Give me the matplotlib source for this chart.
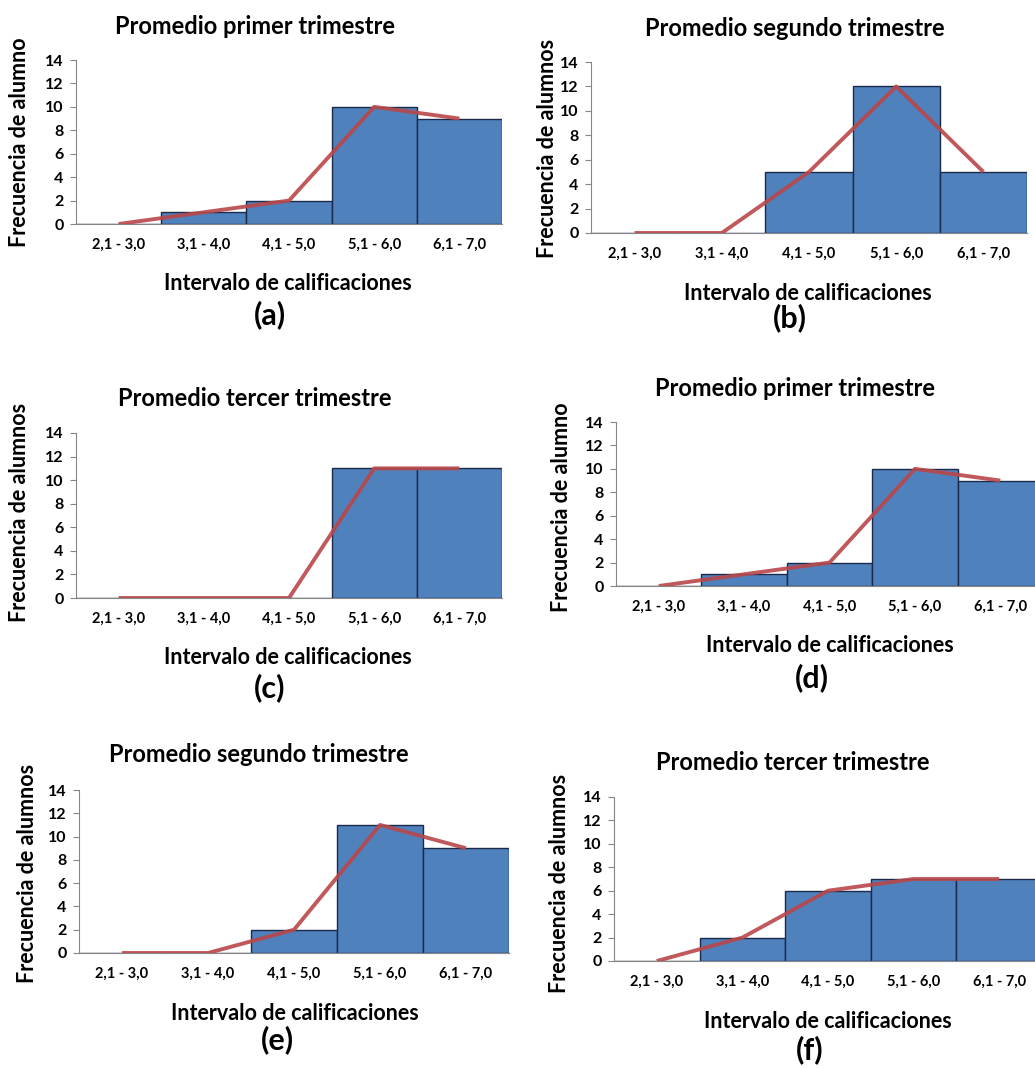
import matplotlib
matplotlib.use("Agg")
import matplotlib.pyplot as plt
import numpy as np

plt.rcParams['font.family'] = ['Lato', 'DejaVu Sans']
plt.rcParams['font.weight'] = 'bold'

categories = ["2,1 - 3,0", "3,1 - 4,0", "4,1 - 5,0", "5,1 - 6,0", "6,1 - 7,0"]
yticks = [0, 2, 4, 6, 8, 10, 12, 14]

freq_a = [0, 1, 2, 10, 9]
freq_b = [0, 0, 5, 12, 5]
freq_c = [0, 0, 0, 11, 11]
freq_d = [0, 1, 2, 10, 9]
freq_e = [0, 0, 2, 11, 9]
freq_f = [0, 2, 6, 7, 7]

titles = ["Promedio primer trimestre", "Promedio segundo trimestre", "Promedio tercer trimestre",
          "Promedio primer trimestre", "Promedio segundo trimestre", "Promedio tercer trimestre"]
ylabels = ["Frecuencia de alumno", "Frecuencia de alumnos", "Frecuencia de alumnos",
           "Frecuencia de alumno", "Frecuencia de alumnos", "Frecuencia de alumnos"]
xlabel = "Intervalo de calificaciones"
panel_tags = ["(a)", "(b)", "(c)", "(d)", "(e)", "(f)"]
series = [freq_a, freq_b, freq_c, freq_d, freq_e, freq_f]

W, H = 1035, 1068
fig = plt.figure(figsize=(W / 100, H / 100), dpi=100)
fig.patch.set_facecolor("white")

layouts = [
    dict(ax=(76, 502, 60, 224), title=(255, 27), ylab=(20, 142), xlab=(288, 283), tag=(270, 315)),
    dict(ax=(591, 1027, 62, 233), title=(795, 29), ylab=(548, 148), xlab=(808, 293), tag=(790, 318)),
    dict(ax=(76, 502, 433, 598), title=(255, 398), ylab=(20, 512), xlab=(288, 657), tag=(270, 688)),
    dict(ax=(616, 1043, 422, 586), title=(795, 388), ylab=(562, 507), xlab=(830, 646), tag=(812, 678)),
    dict(ax=(79, 509, 790, 953), title=(259, 755), ylab=(28, 873), xlab=(295, 1013), tag=(277, 1040)),
    dict(ax=(614, 1042, 797, 961), title=(793, 763), ylab=(560, 883), xlab=(828, 1022), tag=(810, 1050)),
]

bar_color = "#4F81BD"
edge_color = "#1B2A48"
line_color = "#B9474A"

x = np.arange(len(categories))
for vals, lay, title, ylab, tag in zip(series, layouts, titles, ylabels, panel_tags):
    l, r, t, b = lay["ax"]
    ax = fig.add_axes([l / W, 1 - b / H, (r - l) / W, (b - t) / H])
    ax.bar(x, vals, width=1.0, color=bar_color, edgecolor=edge_color, linewidth=1.0, zorder=2)
    ax.plot(x, vals, color=line_color, linewidth=2.8, alpha=0.9, zorder=3, solid_capstyle='butt')
    ax.set_xlim(-0.5, len(categories) - 0.5)
    ax.set_ylim(0, 14)
    ax.set_yticks(yticks)
    ax.set_yticklabels([str(v) for v in yticks], fontsize=11.5, fontweight='bold')
    ax.set_xticks(x)
    ax.set_xticklabels(categories, fontsize=10.5, fontweight='bold')
    ax.tick_params(axis='x', length=0, pad=10)
    ax.tick_params(axis='y', length=4, width=0.8, color="#868686", direction='out', pad=5)
    for s in ["top", "right"]:
        ax.spines[s].set_visible(False)
    ax.spines["left"].set_color("#868686")
    ax.spines["bottom"].set_color("#868686")
    ax.spines["left"].set_linewidth(0.8)
    ax.spines["bottom"].set_linewidth(0.8)
    ax.set_facecolor("white")

    tx, ty = lay["title"]
    fig.text(tx / W, 1 - ty / H, title, fontsize=17, fontweight='bold', ha='center', va='center')
    yx, yy = lay["ylab"]
    fig.text(yx / W, 1 - yy / H, ylab, fontsize=15.5, fontweight='bold', ha='center', va='center', rotation=90)
    xx, xy = lay["xlab"]
    fig.text(xx / W, 1 - xy / H, xlabel, fontsize=15.5, fontweight='bold', ha='center', va='center')
    gx, gy = lay["tag"]
    fig.text(gx / W, 1 - gy / H, tag, fontsize=22, fontweight='bold', ha='center', va='center')

fig.savefig("out.png", dpi=100, facecolor="white")
